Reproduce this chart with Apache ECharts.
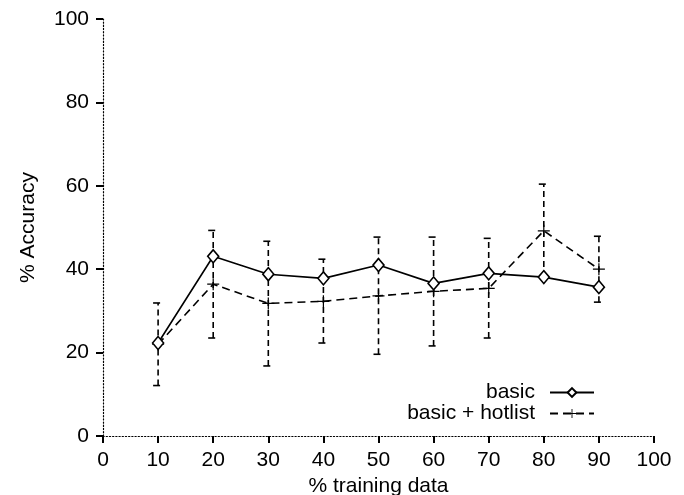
<!DOCTYPE html>
<html>
<head>
<meta charset="utf-8">
<script src="https://cdn.jsdelivr.net/npm/echarts@6/dist/echarts.min.js"></script>
<style>
  html, body { margin: 0; padding: 0; background: #fff; }
  #chart { width: 684px; height: 495px; }
</style>
</head>
<body>
<div id="chart"></div>
<script>
// % training data on x
const trainPct = [10, 20, 30, 40, 50, 60, 70, 80, 90]
const basicAcc = [22.3, 43.1, 38.8, 37.8, 41.0, 36.6, 39.0, 38.1, 35.7]
const hotlistAcc = [22.0, 36.4, 31.8, 32.3, 33.6, 34.7, 35.4, 49.2, 40.0]
// error bars around basic + hotlist
const errLow = [12.1, 23.5, 16.8, 22.3, 19.6, 21.6, 23.5, 38.1, 32.1]
const errHigh = [31.9, 49.3, 46.7, 42.4, 47.7, 47.7, 47.4, 60.4, 47.9]

const FONT = 'Liberation Sans, Arial, Helvetica, sans-serif'
const plusPath = 'path://M0,5.4h12v1.2h-12zM5.4,0h1.2v12h-1.2z'

const chart = echarts.init(document.getElementById('chart'))

function axisCommon() {
  return {
    type: 'value',
    axisLine: { show: true, lineStyle: { color: '#000', width: 1.2, type: [1.2, 2] } },
    axisTick: { show: true, inside: false, length: 7, lineStyle: { color: '#000', width: 2 } },
    axisLabel: { color: '#000', fontSize: 21, fontFamily: FONT },
    splitLine: { show: false },
    nameTextStyle: { color: '#000', fontSize: 21, fontFamily: FONT }
  }
}

chart.setOption({
  animation: false,
  backgroundColor: '#fff',
  grid: { left: 103, right: 30, top: 19, bottom: 59, containLabel: false, outerBoundsMode: 'none' },
  xAxis: Object.assign(axisCommon(), {
    min: 0, max: 100, interval: 10,
    name: '% training data', nameLocation: 'middle', nameGap: 36,
    axisLabel: { color: '#000', fontSize: 21, fontFamily: FONT, margin: 14 }
  }),
  yAxis: Object.assign(axisCommon(), {
    min: 0, max: 100, interval: 20,
    name: '% Accuracy', nameLocation: 'middle', nameGap: 64,
    axisLabel: { color: '#000', fontSize: 21, fontFamily: FONT, margin: 14 }
  }),
  legend: {
    orient: 'vertical',
    right: 84,
    top: 377,
    align: 'right',
    itemWidth: 44,
    itemHeight: 11,
    itemGap: 0,
    textStyle: { color: '#000', fontSize: 21, fontFamily: FONT, lineHeight: 19, padding: [0, 10, 0, 0] },
    data: ['basic', 'basic + hotlist']
  },
  series: [
    {
      name: 'errbars',
      type: 'custom',
      data: trainPct.map((x, i) => [x, errLow[i], errHigh[i]]),
      encode: { x: 0, y: [1, 2] },
      z: 1,
      renderItem: function (params, api) {
        const x = api.value(0)
        const lo = api.coord([x, api.value(1)])
        const hi = api.coord([x, api.value(2)])
        const style = { stroke: '#000', lineWidth: 1.6, lineDash: [6, 4] }
        const cap = { stroke: '#000', lineWidth: 1.6 }
        return {
          type: 'group',
          children: [
            { type: 'line', shape: { x1: lo[0], y1: lo[1], x2: hi[0], y2: hi[1] }, style: style },
            { type: 'line', shape: { x1: hi[0] - 5, y1: hi[1], x2: hi[0] + 2, y2: hi[1] }, style: cap },
            { type: 'line', shape: { x1: lo[0] - 5, y1: lo[1], x2: lo[0] + 2, y2: lo[1] }, style: cap }
          ]
        }
      }
    },
    {
      name: 'basic',
      type: 'line',
      data: trainPct.map((x, i) => [x, basicAcc[i]]),
      symbol: 'diamond',
      symbolSize: [11, 13],
      z: 3,
      lineStyle: { color: '#000', width: 1.6, type: 'solid' },
      itemStyle: { color: '#fff', borderColor: '#000', borderWidth: 1.6 }
    },
    {
      name: 'basic + hotlist',
      type: 'line',
      data: trainPct.map((x, i) => [x, hotlistAcc[i]]),
      symbol: plusPath,
      symbolSize: 12,
      z: 2,
      lineStyle: { color: '#000', width: 1.6, type: [8, 5] },
      itemStyle: { color: '#000', borderWidth: 0 }
    }
  ]
})
</script>
</body>
</html>
